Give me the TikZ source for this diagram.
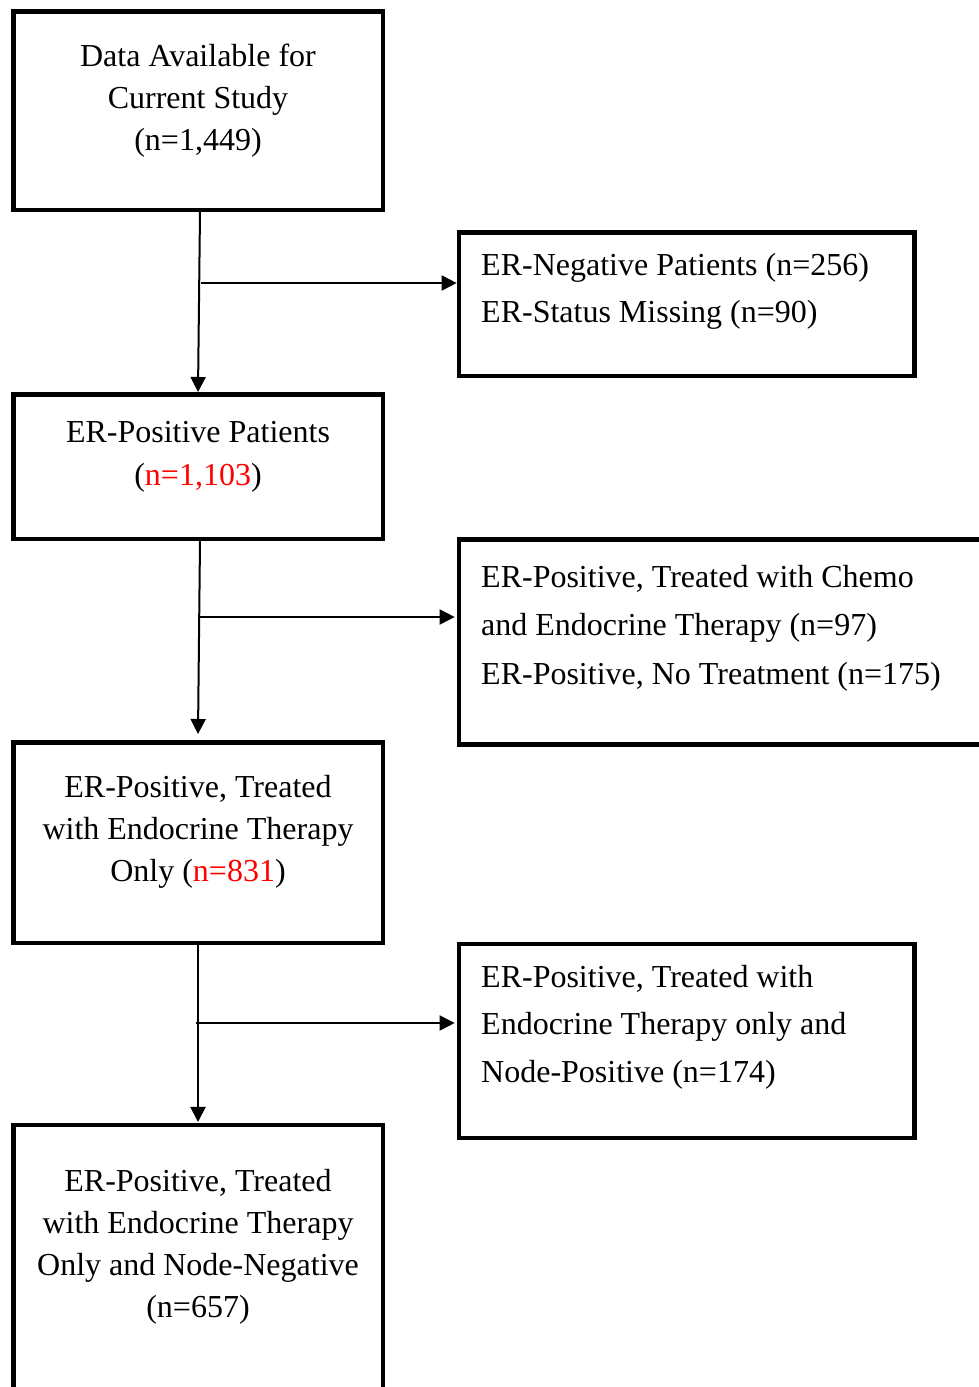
\documentclass[tikz,border=0pt]{standalone}
\usepackage{fontspec}
\setmainfont{Liberation Serif}
\usetikzlibrary{arrows.meta}
\begin{document}
\begin{tikzpicture}[x=1pt,y=-1pt,
  frame/.style={draw=black, line width=4.5pt, inner sep=0pt, rectangle},
  ltext/.style={font=\fontsize{32}{42}\selectfont, align=center, anchor=base, inner sep=0pt},
  rtext/.style={font=\fontsize{32}{47}\selectfont, align=left, anchor=base west, inner sep=0pt},
  arr/.style={line width=2pt, -{Triangle[length=15pt,width=15pt]}}]
\useasboundingbox (0,0) rectangle (979,1387);
\clip (0,0) rectangle (979,1387);
% frames
\node[frame, minimum width=369.5pt, minimum height=198.5pt] (b1) at (198,110.5) {};
\node[frame, minimum width=455.6pt, minimum height=143.5pt] (r1) at (686.7,304) {};
\node[frame, minimum width=369.5pt, minimum height=144.5pt] (b2) at (198,466.5) {};
\node[frame, minimum width=541pt, minimum height=205pt] (r2) at (729.4,642) {};
\node[frame, minimum width=369.5pt, minimum height=200.5pt] (b3) at (198,842.5) {};
\node[frame, minimum width=455.6pt, minimum height=193.75pt] (r3) at (686.7,1040.9) {};
\node[frame, minimum width=369.5pt, minimum height=334.75pt] (b4) at (198,1292.6) {};
% texts (anchored at the baseline of their last line)
\node[ltext] (t1) at (198,150) {Data Available for\\Current Study\\(n=1,449)};
\node[rtext] (s1) at (481,322) {ER-Negative Patients (n=256)\\ER-Status Missing (n=90)};
\node[ltext, font=\fontsize{32}{43}\selectfont] (t2) at (198,485) {ER-Positive Patients\\(\textcolor{red}{n=1,103})};
\node[rtext, font=\fontsize{32}{48.5}\selectfont] (s2) at (481,684) {ER-Positive, Treated with Chemo\\and Endocrine Therapy (n=97)\\ER-Positive, No Treatment (n=175)};
\node[ltext] (t3) at (198,881) {ER-Positive, Treated\\with Endocrine Therapy\\Only (\textcolor{red}{n=831})};
\node[rtext, font=\fontsize{32}{47.5}\selectfont] (s3) at (481,1082) {ER-Positive, Treated with\\Endocrine Therapy only and\\Node-Positive (n=174)};
\node[ltext, font=\fontsize{32}{41.7}\selectfont] (t4) at (198,1317) {ER-Positive, Treated\\with Endocrine Therapy\\Only and Node-Negative\\(n=657)};
% connectors
\coordinate (j1) at (201,283);
\coordinate (j2) at (200,617);
\coordinate (j3) at (196,1023);
\draw[arr] ([xshift=2pt]b1.south) -- (b2.north);
\draw[arr] (j1) -- (j1 -| r1.west);
\draw[arr] ([xshift=2pt]b2.south) -- ([yshift=6pt]b3.north);
\draw[arr] (j2) -- ([xshift=-2pt]j2 -| r2.west);
\draw[arr] (b3.south) -- ([yshift=1pt]b4.north);
\draw[arr] (j3) -- ([xshift=-2pt]j3 -| r3.west);
\end{tikzpicture}
\end{document}
